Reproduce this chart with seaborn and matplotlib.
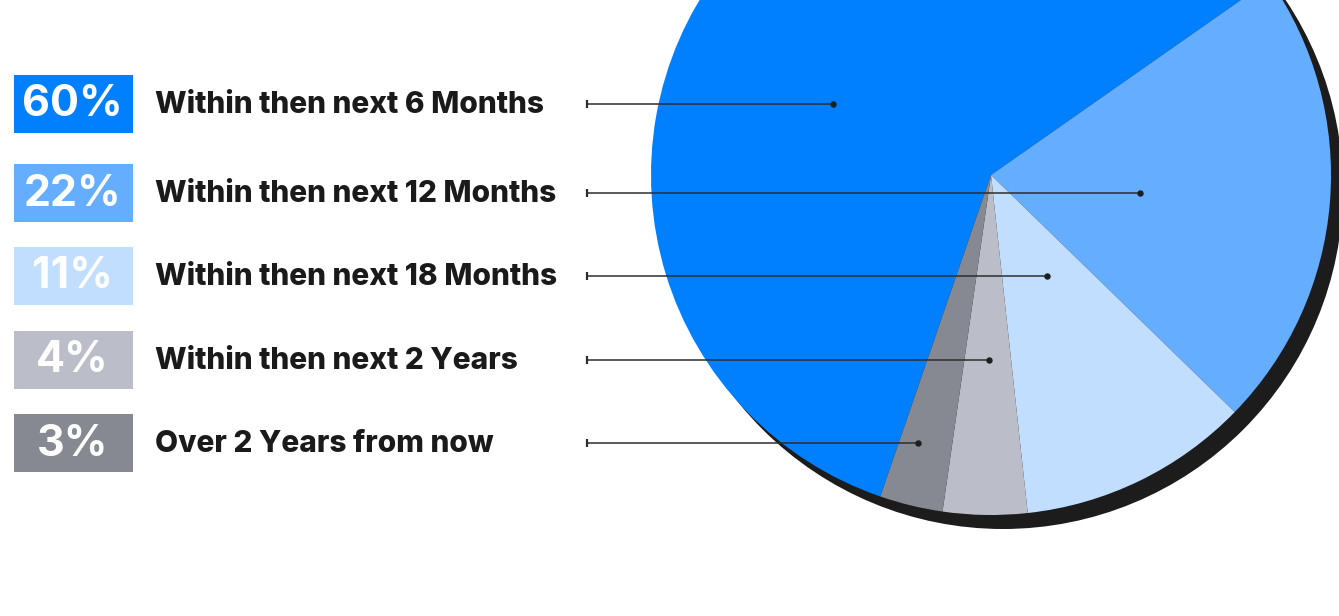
import matplotlib
matplotlib.use("Agg")
import matplotlib.pyplot as plt
from matplotlib.patches import Rectangle, Circle
import seaborn as sns

# Survey answers: expected timeframe
categories = [
    "Within then next 6 Months",
    "Within then next 12 Months",
    "Within then next 18 Months",
    "Within then next 2 Years",
    "Over 2 Years from now",
]
shares = [60, 22, 11, 4, 3]
share_labels = ["60%", "22%", "11%", "4%", "3%"]
colors = ["#0080FF", "#64ADFF", "#C1DEFF", "#BBBEC8", "#868991"]

sns.set_theme(style="white")
plt.rcParams["font.family"] = ["Inter", "DejaVu Sans"]

W, H = 1339, 616
fig = plt.figure(figsize=(W / 100, H / 100), dpi=100)
ax = fig.add_axes([0, 0, 1, 1])

# pie geometry (pixel units, measured from the top-left corner)
cx, cy, r = 991, 175, 340
shadow_dx, shadow_dy = 12, 14

# drop shadow behind the pie
ax.add_patch(Circle((cx + shadow_dx, H - (cy + shadow_dy)), r,
                    facecolor="#1C1C1C", edgecolor="none", zorder=1))

wedges, _ = ax.pie(
    shares,
    colors=colors,
    startangle=251,
    counterclock=False,
    center=(cx, H - cy),
    radius=r,
    wedgeprops=dict(linewidth=0, zorder=2),
    frame=True,
)
for w in wedges:
    w.set_zorder(2)

# legend rows and leader lines
row_y = [104, 193, 276, 360, 443]
dot_x = [833, 1140, 1047, 989, 918]
box_x0, box_w, box_h = 14, 119, 58
label_x = 155
line_x0 = 587

for i, (cat, lab, col) in enumerate(zip(categories, share_labels, colors)):
    y = H - row_y[i]
    ax.add_patch(Rectangle((box_x0, y - box_h / 2), box_w, box_h,
                           facecolor=col, edgecolor="none", zorder=3))
    ax.text(box_x0 + box_w / 2 - 1, y - 1, lab, color="white",
            fontsize=31, fontweight="bold", ha="center", va="center",
            zorder=4)
    ax.text(label_x, y - 1, cat, color="#1A1A1A", fontsize=21.5,
            fontweight="heavy", ha="left", va="center", zorder=4)
    ax.plot([line_x0, dot_x[i]], [y, y], color="#2E2E2E", lw=1.1,
            solid_capstyle="butt", zorder=5)
    ax.plot([line_x0], [y], marker="|", markersize=6, mew=1.6,
            color="#2E2E2E", zorder=5)
    ax.plot([dot_x[i]], [y], marker="o", markersize=3.6,
            color="#1E1E1E", zorder=6)

ax.set_xlim(0, W)
ax.set_ylim(0, H)
ax.set_aspect("equal", adjustable="datalim")
ax.set_position([0, 0, 1, 1])
ax.set_xlim(0, W)
ax.set_ylim(0, H)
ax.axis("off")

fig.savefig("out.png", dpi=100, facecolor="white")
